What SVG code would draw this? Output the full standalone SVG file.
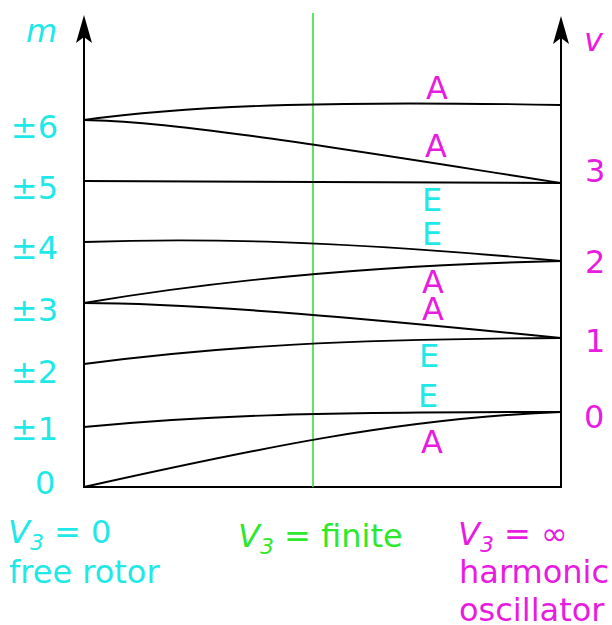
<svg xmlns="http://www.w3.org/2000/svg" width="612" height="625" viewBox="0 0 612 625">
<style>
text{font-family:"DejaVu Sans","Liberation Sans",sans-serif;font-size:32px}
.c{fill:#1ee8e8}.p{fill:#e81ce0}.g{fill:#2ee82e}
.it{font-style:italic}
.lv{fill:none;stroke:#000;stroke-width:1.9}
.ax{fill:none;stroke:#000;stroke-width:2}
</style>
<defs>
<marker id="arr" markerUnits="userSpaceOnUse" markerWidth="30" markerHeight="20" viewBox="0 -10 30 20" refX="6" refY="0" orient="auto">
<path d="M0,-8 L28,0 L0,8 L6,0 Z" fill="#000"/>
</marker>
</defs>
<g id="axes">
<line class="ax" x1="84" y1="487" x2="84" y2="37" marker-end="url(#arr)"/>
<line class="ax" x1="561" y1="487" x2="561" y2="38" marker-end="url(#arr)"/>
<line class="ax" x1="83" y1="487" x2="562" y2="487"/>
<line x1="313" y1="13" x2="313" y2="487" stroke="#3ddd3d" stroke-width="1.6"/>
</g>
<g id="connectors">
<path class="lv" d="M84,487 C250,450 400,418 561,412"/>
<path class="lv" d="M84,427 C200,416 300,412 561,412"/>
<path class="lv" d="M84,364 C220,346 350,339 561,338"/>
<path class="lv" d="M84,303 C200,303 380,320 561,338"/>
<path class="lv" d="M84,303 C220,280 380,265 561,261"/>
<path class="lv" d="M84,242 C200,238 330,240 561,261"/>
<path class="lv" d="M84,181 L561,183"/>
<path class="lv" d="M84,120 C180,121 380,155 561,183"/>
<path class="lv" d="M84,120 C200,104 350,101 561,105"/>
</g>
<g id="left-labels">
<text class="c it" x="26" y="42">m</text>
<text class="c" x="58" y="138" text-anchor="end">±6</text>
<text class="c" x="58" y="199" text-anchor="end">±5</text>
<text class="c" x="58" y="259" text-anchor="end">±4</text>
<text class="c" x="58" y="321" text-anchor="end">±3</text>
<text class="c" x="58" y="383" text-anchor="end">±2</text>
<text class="c" x="58" y="440" text-anchor="end">±1</text>
<text class="c" x="35" y="494">0</text>
</g>
<g id="right-labels">
<text class="p it" x="584" y="51">v</text>
<text class="p" x="585" y="182">3</text>
<text class="p" x="585" y="273">2</text>
<text class="p" x="585" y="352">1</text>
<text class="p" x="584" y="428">0</text>
</g>
<g id="symmetry-labels">
<text class="p" x="426" y="99">A</text>
<text class="p" x="425" y="157">A</text>
<text class="c" x="422" y="211">E</text>
<text class="c" x="422" y="245">E</text>
<text class="p" x="422" y="293">A</text>
<text class="p" x="422" y="320">A</text>
<text class="c" x="419" y="367">E</text>
<text class="c" x="418" y="407">E</text>
<text class="p" x="421" y="453">A</text>
</g>
<g id="free-rotor">
<text class="c" x="8" y="543"><tspan class="it">V</tspan><tspan class="it" font-size="22" dy="7">3</tspan><tspan dy="-7"> = 0</tspan></text>
<text class="c" x="9" y="583">free rotor</text>
</g>
<g id="finite">
<text class="g" x="238" y="547"><tspan class="it">V</tspan><tspan class="it" font-size="22" dy="7">3</tspan><tspan dy="-7"> = finite</tspan></text>
</g>
<g id="harmonic">
<text class="p" x="458" y="545"><tspan class="it">V</tspan><tspan class="it" font-size="22" dy="7">3</tspan><tspan dy="-7"> = ∞</tspan></text>
<text class="p" x="459" y="583">harmonic</text>
<text class="p" x="459" y="621">oscillator</text>
</g>
</svg>
